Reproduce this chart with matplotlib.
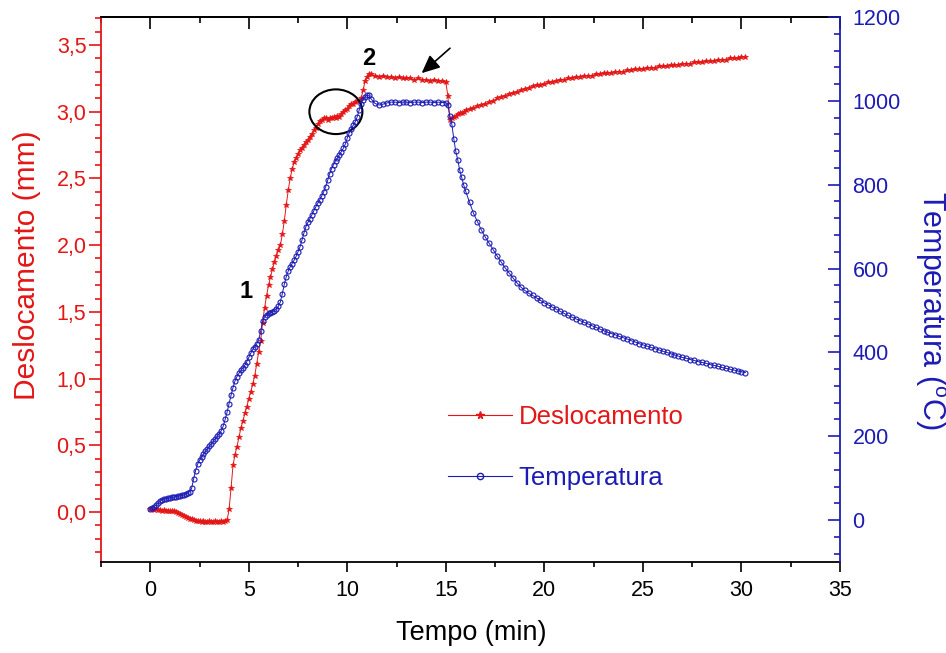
import matplotlib
matplotlib.use('Agg')
import matplotlib.pyplot as plt
from matplotlib.ticker import MultipleLocator, FuncFormatter
from matplotlib.patches import Ellipse
from matplotlib.lines import Line2D

plt.rcParams['font.family'] = ['Liberation Sans', 'DejaVu Sans']
plt.rcParams['mathtext.fontset'] = 'custom'
plt.rcParams['mathtext.rm'] = 'Liberation Sans'

# Sampling instants (min)
tempo = [
    0.0, 0.1, 0.2, 0.3, 0.4, 0.5, 0.6, 0.7, 0.8, 0.9,
    1.0, 1.1, 1.2, 1.3, 1.4, 1.5, 1.6, 1.7, 1.8, 1.9,
    2.0, 2.1, 2.2, 2.3, 2.4, 2.5, 2.6, 2.7, 2.8, 2.9,
    3.0, 3.1, 3.2, 3.3, 3.4, 3.5, 3.6, 3.7, 3.8, 3.9,
    4.0, 4.1, 4.2, 4.3, 4.4, 4.5, 4.6, 4.7, 4.8, 4.9,
    5.0, 5.1, 5.2, 5.3, 5.4, 5.5, 5.6, 5.7, 5.8, 5.9,
    6.0, 6.1, 6.2, 6.3, 6.4, 6.5, 6.6, 6.7, 6.8, 6.9,
    7.0, 7.1, 7.2, 7.3, 7.4, 7.5, 7.6, 7.7, 7.8, 7.9,
    8.0, 8.1, 8.2, 8.3, 8.4, 8.5, 8.6, 8.7, 8.8, 8.9,
    9.0, 9.1, 9.2, 9.3, 9.4, 9.5, 9.6, 9.7, 9.8, 9.9,
    10.0, 10.1, 10.2, 10.3, 10.4, 10.5, 10.6, 10.7, 10.8, 10.9,
    11.0, 11.1, 11.2,
    11.4, 11.6, 11.8, 12.0, 12.2, 12.4, 12.6, 12.8, 13.0, 13.2,
    13.4, 13.6, 13.8, 14.0, 14.2, 14.4, 14.6, 14.8, 15.0,
    15.1, 15.2, 15.3, 15.4, 15.5, 15.6, 15.7, 15.8, 15.9, 16.0,
    16.2, 16.4, 16.6, 16.8, 17.0, 17.2, 17.4, 17.6, 17.8, 18.0,
    18.2, 18.4, 18.6, 18.8, 19.0, 19.2, 19.4, 19.6, 19.8, 20.0,
    20.2, 20.4, 20.6, 20.8, 21.0, 21.2, 21.4, 21.6, 21.8, 22.0,
    22.2, 22.4, 22.6, 22.8, 23.0, 23.2, 23.4, 23.6, 23.8, 24.0,
    24.2, 24.4, 24.6, 24.8, 25.0, 25.2, 25.4, 25.6, 25.8, 26.0,
    26.2, 26.4, 26.6, 26.8, 27.0, 27.2, 27.4, 27.6, 27.8, 28.0,
    28.2, 28.4, 28.6, 28.8, 29.0, 29.2, 29.4, 29.6, 29.8, 30.0,
    30.2,
]

# Displacement (mm)
deslocamento = [
    0.02, 0.02, 0.015, 0.02, 0.015, 0.015, 0.01, 0.015, 0.01, 0.01,
    0.01, 0.005, 0.005, 0.0, -0.01, -0.015, -0.025, -0.03, -0.035, -0.045,
    -0.05, -0.055, -0.06, -0.065, -0.07, -0.07, -0.075, -0.07, -0.075, -0.075,
    -0.07, -0.075, -0.075, -0.07, -0.075, -0.075, -0.07, -0.075, -0.07, -0.06,
    0.02, 0.18, 0.35, 0.43, 0.49, 0.56, 0.63, 0.68, 0.74, 0.79,
    0.85, 0.90, 0.96, 1.02, 1.11, 1.20, 1.28, 1.42, 1.53, 1.62,
    1.70, 1.76, 1.82, 1.87, 1.92, 1.96, 2.00, 2.08, 2.18, 2.30,
    2.41, 2.50, 2.57, 2.62, 2.65, 2.68, 2.71, 2.73, 2.75, 2.77,
    2.79, 2.81, 2.83, 2.86, 2.88, 2.91, 2.93, 2.94, 2.95, 2.95,
    2.94, 2.95, 2.95, 2.96, 2.95, 2.97, 2.96, 2.98, 3.00, 3.01,
    3.02, 3.04, 3.06, 3.06, 3.07, 3.08, 3.08, 3.10, 3.16, 3.23,
    3.26, 3.28, 3.28,
    3.27, 3.26, 3.27, 3.26, 3.26, 3.25, 3.26, 3.25, 3.25, 3.25,
    3.24, 3.25, 3.24, 3.24, 3.23, 3.24, 3.23, 3.23, 3.22,
    3.12, 2.94, 2.95, 2.96, 2.97, 2.98, 2.99, 2.99, 3.00, 3.01,
    3.02, 3.03, 3.04, 3.05, 3.06, 3.07, 3.08, 3.10, 3.11, 3.12,
    3.13, 3.14, 3.15, 3.16, 3.17, 3.18, 3.19, 3.20, 3.20, 3.21,
    3.22, 3.22, 3.23, 3.24, 3.24, 3.25, 3.25, 3.26, 3.26, 3.27,
    3.27, 3.27, 3.28, 3.28, 3.29, 3.29, 3.29, 3.30, 3.30, 3.30,
    3.31, 3.31, 3.32, 3.32, 3.32, 3.33, 3.33, 3.33, 3.34, 3.34,
    3.34, 3.35, 3.35, 3.35, 3.36, 3.36, 3.36, 3.37, 3.37, 3.37,
    3.38, 3.38, 3.38, 3.39, 3.39, 3.39, 3.40, 3.40, 3.40, 3.41,
    3.41,
]

# Temperature (degC)
temperatura = [
    26, 28, 32, 36, 40, 45, 48, 50, 51, 52,
    53, 54, 55, 56, 57, 58, 59, 60, 62, 64,
    68, 76, 98, 118, 133, 143, 150, 158, 164, 170,
    176, 182, 188, 194, 200, 206, 213, 224, 240, 258,
    278, 298, 316, 332, 342, 350, 357, 363, 370, 378,
    388, 398, 407, 414, 420, 430, 450, 474, 485, 490,
    493, 495, 497, 499, 504, 510, 520, 540, 562, 580,
    594, 604, 612, 620, 629, 640, 652, 668, 685, 700,
    710, 719, 728, 738, 747, 756, 764, 773, 783, 795,
    810, 826, 838, 848, 857, 864, 872, 879, 887, 897,
    912, 924, 934, 942, 950, 962, 978, 992, 1003, 1010,
    1014, 1013, 1005,
    994, 990, 992, 995, 997, 997, 996, 997, 997, 996,
    997, 997, 996, 997, 997, 996, 997, 996, 996,
    990, 965, 945, 910, 880, 860, 835, 818, 800, 785,
    758, 732, 712, 692, 675, 660, 645, 630, 616, 602,
    590, 578, 566, 556, 548, 541, 536, 530, 524, 518,
    513, 508, 503, 498, 493, 488, 484, 480, 476, 472,
    468, 464, 460, 456, 452, 448, 445, 442, 438, 435,
    432, 428, 425, 421, 418, 415, 412, 409, 406, 403,
    400, 397, 394, 391, 388, 386, 383, 381, 378, 376,
    374, 371, 369, 367, 364, 362, 360, 358, 356, 354,
    352,
]

RED = '#e41616'
BLUE = '#1c1cb4'

fig = plt.figure(figsize=(9.46, 6.53), dpi=100)
ax = fig.add_axes([101 / 946, 1 - 562 / 653, 739 / 946, 545 / 653])
ax2 = ax.twinx()

ax.plot(tempo, deslocamento, color=RED, lw=0.7, marker='*', ms=4.2,
        mec=RED, mfc=RED, mew=0.5)
ax2.plot(tempo, temperatura, color=BLUE, lw=0.7, marker='o', ms=3.6,
         mfc='none', mec=BLUE, mew=0.8)

ax.set_xlim(-2.5, 35)
ax.set_ylim(-0.375, 3.71)
ax2.set_ylim(-100, 1200)

# x axis (bottom: outward ticks; top: inward ticks, no labels)
ax.xaxis.set_major_locator(MultipleLocator(5))
ax.xaxis.set_minor_locator(MultipleLocator(2.5))
ax.tick_params(axis='x', which='major', direction='out', length=7, width=1.2,
               labelsize=15.5, pad=6, colors='black')
ax.tick_params(axis='x', which='minor', direction='out', length=3.5, width=1.2)
top = ax.secondary_xaxis('top')
top.xaxis.set_major_locator(MultipleLocator(5))
top.xaxis.set_minor_locator(MultipleLocator(2.5))
top.tick_params(axis='x', which='major', direction='in', length=8.5, width=1.2,
                labeltop=False)
top.tick_params(axis='x', which='minor', direction='in', length=4.3, width=1.2)
top.spines['top'].set_linewidth(1.3)

# left axis: displacement
ax.yaxis.set_major_locator(MultipleLocator(0.5))
ax.yaxis.set_minor_locator(MultipleLocator(0.1))
ax.yaxis.set_major_formatter(FuncFormatter(lambda v, p: f"{v:.1f}".replace('.', ',')))
ax.tick_params(axis='y', which='major', direction='out', length=8.5, width=1.2,
               labelsize=15.5, pad=2, colors=RED)
ax.tick_params(axis='y', which='minor', direction='out', length=4.3, width=1.2,
               colors=RED)

# right axis: temperature
ax2.yaxis.set_major_locator(MultipleLocator(200))
ax2.yaxis.set_minor_locator(MultipleLocator(40))
ax2.tick_params(axis='y', which='major', direction='in', length=8.5, width=1.2,
                labelsize=15.5, pad=9, colors=BLUE)
ax2.tick_params(axis='y', which='minor', direction='in', length=4.3, width=1.2,
                colors=BLUE)

for s in ('top', 'bottom'):
    ax.spines[s].set_color('black')
    ax.spines[s].set_linewidth(1.3)
    ax2.spines[s].set_visible(False)
ax.spines['left'].set_color(RED)
ax.spines['left'].set_linewidth(1.3)
ax.spines['right'].set_visible(False)
ax2.spines['left'].set_visible(False)
ax2.spines['right'].set_color(BLUE)
ax2.spines['right'].set_linewidth(1.3)

# axis titles
fig.text(471 / 946, 1 - 633 / 653, 'Tempo (min)', fontsize=19.5,
         ha='center', va='center', color='black')
fig.text(27 / 946, 1 - 265 / 653, 'Deslocamento (mm)', fontsize=21.5,
         ha='center', va='center', rotation=90, color=RED)
fig.text(930 / 946, 1 - 310 / 653, r'Temperatura ($\mathregular{^o}$C)',
         fontsize=22, ha='center', va='center', rotation=-90, color=BLUE)

# marked features
ax.add_patch(Ellipse((9.42, 3.00), 2.69, 0.335, fill=False, lw=1.5,
                     edgecolor='black', zorder=5))
ax.text(4.86, 1.65, '1', fontsize=17, fontweight='bold', ha='center',
        va='center', color='black')
ax.text(11.1, 3.40, '2', fontsize=17, fontweight='bold', ha='center',
        va='center', color='black')
ax.annotate('', xy=(13.77, 3.289), xytext=(15.21, 3.476),
            arrowprops=dict(arrowstyle='-|>,head_length=0.55,head_width=0.25',
                            color='black', lw=1.2, shrinkA=0, shrinkB=0,
                            mutation_scale=20))

# legend
handles = [
    Line2D([], [], color=RED, lw=0.8, marker='*', ms=5.5, mec=RED, mfc=RED),
    Line2D([], [], color=BLUE, lw=0.8, marker='o', ms=4.5, mfc='none', mec=BLUE),
]
leg = fig.legend(handles, ['Deslocamento', 'Temperatura'], frameon=False,
                 loc='upper left', bbox_to_anchor=(448 / 946, 1 - 405 / 653),
                 fontsize=18.5, handlelength=2.5, handletextpad=0.25,
                 labelspacing=1.45, borderpad=0, borderaxespad=0)
leg.get_texts()[0].set_color(RED)
leg.get_texts()[1].set_color(BLUE)

fig.savefig('out.png', dpi=100)
